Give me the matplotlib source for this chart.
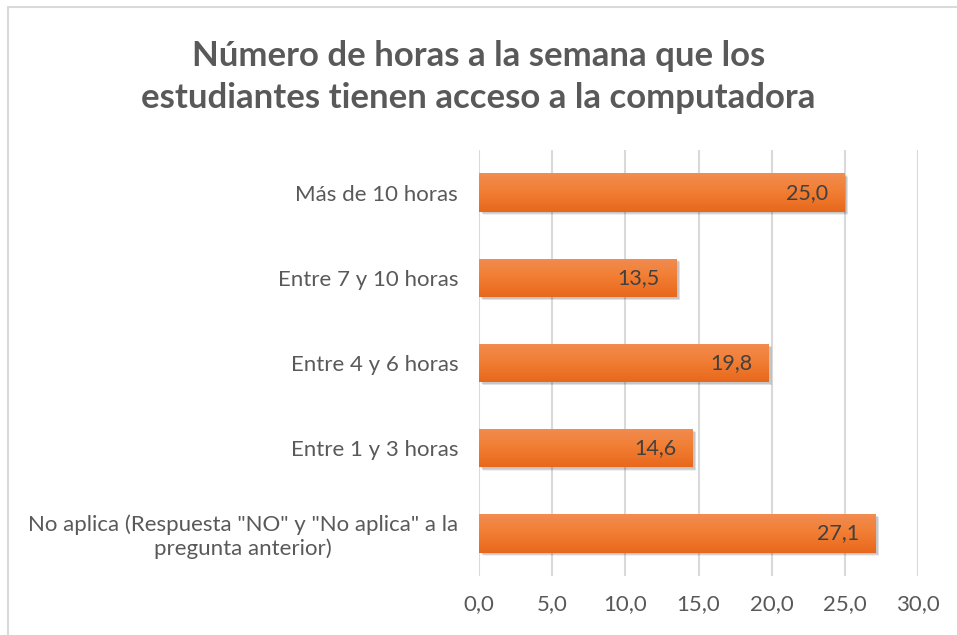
import matplotlib.pyplot as plt
import matplotlib.patches as mpatches
from matplotlib.colors import LinearSegmentedColormap
import numpy as np

categorias = ['No aplica (Respuesta "NO" y "No aplica" a la\npregunta anterior)',
              'Entre 1 y 3 horas',
              'Entre 4 y 6 horas',
              'Entre 7 y 10 horas',
              'Más de 10 horas']
porcentajes = [27.1, 14.6, 19.8, 13.5, 25.0]
ticks = [0, 5, 10, 15, 20, 25, 30]

plt.rcParams['font.family'] = ['Lato', 'DejaVu Sans']

fig = plt.figure(figsize=(9.57, 6.35), dpi=100)
ax = fig.add_axes([479 / 957, 1 - 576 / 635, 439 / 957, 426 / 635])

# marco del grafico
fig.patches.append(mpatches.Rectangle((8 / 957, -0.1), 1.2, 1 - 7 / 635 + 0.1,
                                      transform=fig.transFigure, fill=False,
                                      edgecolor='#D9D9D9', linewidth=1.5))

y = np.arange(len(categorias))
alto = 0.45

# sombra
for k in range(4):
    ax.barh(y - 0.02 - k * 0.006, porcentajes, height=alto, left=0.15 + k * 0.03,
            color='#000000', alpha=0.06, zorder=2, linewidth=0)

bars = ax.barh(y, porcentajes, height=alto, color='#F07A2E', zorder=3, linewidth=0)

# degradado vertical de las barras
grad = np.linspace(0, 1, 100).reshape(-1, 1)
cmap = LinearSegmentedColormap.from_list('naranja', ['#E7681C', '#F17D32', '#F28C50'])
for b in bars:
    x0, y0 = b.get_x(), b.get_y()
    w, h = b.get_width(), b.get_height()
    im = ax.imshow(grad, extent=[x0, x0 + w, y0, y0 + h], origin='lower',
                   cmap=cmap, aspect='auto', zorder=4)
    im.set_clip_path(b)

for yi, v in zip(y, porcentajes):
    ax.annotate(f'{v:.1f}'.replace('.', ','), (v, yi), xytext=(-12, 0),
                textcoords='offset points', ha='right', va='center',
                fontsize=15.5, color='#404040', zorder=5)

ax.set_xlim(0, 30)
ax.set_ylim(-0.5, len(categorias) - 0.5)
ax.set_xticks(ticks)
ax.set_xticklabels([f'{t:.1f}'.replace('.', ',') for t in ticks])
ax.set_yticks(y)
ax.set_yticklabels(categorias, multialignment='center')
ax.grid(axis='x', color='#D9D9D9', linewidth=1.5, zorder=0)
ax.set_axisbelow(True)
for s in ax.spines.values():
    s.set_visible(False)
ax.tick_params(axis='both', length=0, labelsize=16, labelcolor='#595959')
ax.tick_params(axis='y', pad=15)
ax.tick_params(axis='x', pad=13)

fig.text(0.5, 1 - 77 / 635, 'Número de horas a la semana que los\nestudiantes tienen acceso a la computadora',
         ha='center', va='center', fontsize=25, fontweight='bold', color='#595959',
         linespacing=1.35)

fig.savefig('out.png', dpi=100, facecolor='white')
